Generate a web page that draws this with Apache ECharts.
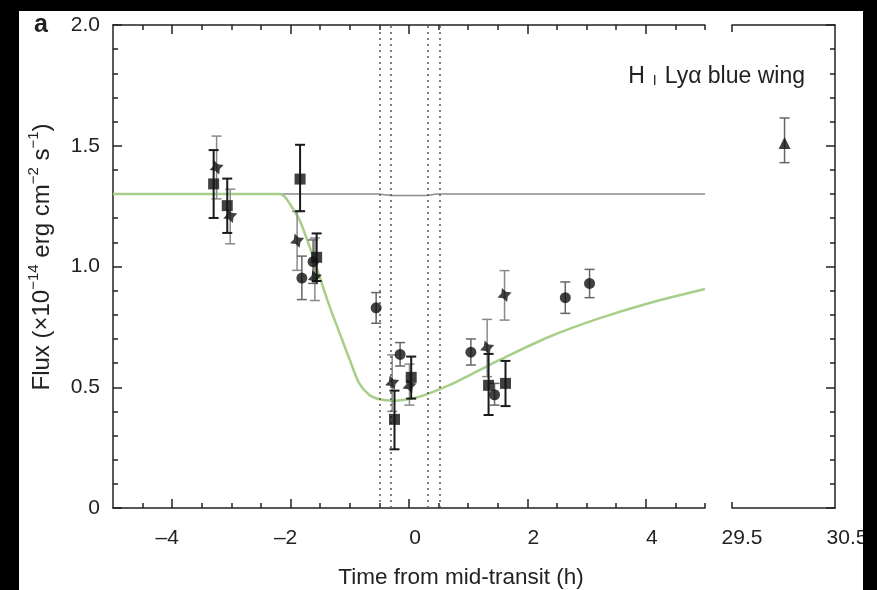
<!DOCTYPE html>
<html>
<head>
<meta charset="utf-8">
<script src="https://cdn.jsdelivr.net/npm/echarts@6/dist/echarts.min.js"></script>
<style>
html, body { margin: 0; padding: 0; background: #000; }
#paper { position: absolute; left: 19px; top: 11px; width: 844px; height: 579px; background: #fff; overflow: hidden; }
#chart { position: absolute; left: -19px; top: -11px; width: 877px; height: 590px; }
</style>
</head>
<body>
<div id="paper"><div id="chart"></div></div>
<script>
// tick values
const xMajor = [-4, -2, 0, 2, 4]
const xMinor = [-4.5, -3.5, -3, -2.5, -1.5, -1, -0.5, 0.5, 1, 1.5, 2.5, 3, 3.5, 4.5, 5]
const xRightLabels = [29.5, 30.5]

// model light curves
const modelX = [-5, -2.19, -2.10, -2.02, -1.85, -1.68, -1.51, -1.34, -1.17, -1.00, -0.84, -0.67, -0.50, -0.27, -0.10, 0.18, 0.68, 1.19, 1.53, 2.37, 3.21, 4.05, 5]
const modelY = [1.30, 1.30, 1.289, 1.262, 1.193, 1.082, 0.958, 0.834, 0.723, 0.613, 0.516, 0.468, 0.45, 0.444, 0.447, 0.461, 0.509, 0.571, 0.613, 0.709, 0.785, 0.848, 0.907]
const refX = [-5, -0.52, -0.30, 0.30, 0.47, 5]
const refY = [1.30, 1.30, 1.294, 1.294, 1.30, 1.30]

// contact times
const contactX = [-0.5, -0.3, 0.31, 0.515]

// circles
const circX = [-1.81, -1.62, -0.555, -0.15, 1.045, 1.445, 2.64, 3.05]
const circY = [0.952, 1.02, 0.829, 0.636, 0.645, 0.469, 0.871, 0.930]
const circLo = [0.863, 0.93, 0.765, 0.588, 0.592, 0.426, 0.806, 0.871]
const circHi = [1.043, 1.11, 0.892, 0.685, 0.700, 0.516, 0.936, 0.988]

// squares
const sqX = [-3.30, -3.07, -1.84, -1.56, -0.245, 0.037, 1.344, 1.63]
const sqY = [1.342, 1.252, 1.362, 1.038, 0.367, 0.541, 0.508, 0.516]
const sqLo = [1.201, 1.139, 1.229, 0.94, 0.243, 0.453, 0.385, 0.422]
const sqHi = [1.482, 1.364, 1.504, 1.137, 0.486, 0.627, 0.638, 0.609]

// stars
const starX = [-3.25, -3.02, -1.89, -1.59, -0.284, 0.008, 1.32, 1.614]
const starY = [1.41, 1.209, 1.107, 0.955, 0.519, 0.505, 0.664, 0.882]
const starLo = [1.28, 1.094, 0.984, 0.859, 0.40, 0.426, 0.544, 0.778]
const starHi = [1.54, 1.32, 1.228, 1.118, 0.634, 0.596, 0.781, 0.983]

// late point (right panel)
const triX = [29.9]
const triY = [1.511]
const triLo = [1.43]
const triHi = [1.615]

const FONT = '"Liberation Sans", Arial, sans-serif'
const INK = '#222'
const STAR = 'path://M0,-10 L3.4,-3.4 L10,0 L3.4,3.4 L0,10 L-3.4,3.4 L-10,0 L-3.4,-3.4 Z'

const zip = (xs, ys) => xs.map((x, i) => [x, ys[i]])
const zip3 = (xs, lo, hi) => xs.map((x, i) => [x, lo[i], hi[i]])

function errBars(data, color, width, xi, yi) {
  return {
    type: 'custom',
    xAxisIndex: xi,
    yAxisIndex: yi,
    data: data,
    z: 3,
    silent: true,
    renderItem: function (params, api) {
      const lo = api.coord([api.value(0), api.value(1)])
      const hi = api.coord([api.value(0), api.value(2)])
      const w = 5
      const style = { stroke: color, lineWidth: width }
      return {
        type: 'group',
        children: [
          { type: 'line', shape: { x1: lo[0], y1: lo[1], x2: hi[0], y2: hi[1] }, style: style },
          { type: 'line', shape: { x1: lo[0] - w, y1: lo[1], x2: lo[0] + w, y2: lo[1] }, style: style },
          { type: 'line', shape: { x1: hi[0] - w, y1: hi[1], x2: hi[0] + w, y2: hi[1] }, style: style }
        ]
      }
    }
  }
}

const lineAx = { show: true, onZero: false, lineStyle: { color: INK, width: 1.5 } }
const noLine = { show: false, onZero: false }
const noLabel = { show: false }
const tickStyle = { color: INK, width: 1.5 }

const mychart = echarts.init(document.getElementById('chart'))
const option = {
  animation: false,
  textStyle: { fontFamily: FONT },
  grid: [
    { left: 113, top: 25, width: 592, height: 483 },
    { left: 732, top: 25, width: 103, height: 483 },
    { left: 742, top: 25, width: 105, height: 483 }
  ],
  xAxis: [
    { gridIndex: 0, type: 'value', position: 'bottom', min: -5, max: 5,
      axisLine: lineAx, splitLine: { show: false },
      axisTick: { show: true, inside: true, length: 9, customValues: xMajor, lineStyle: tickStyle },
      axisLabel: { show: true, customValues: xMajor, margin: 20, color: INK,
        formatter: v => v < 0 ? '{n|\u2013' + Math.abs(v) + '}' : '{p|' + v + '}',
        rich: {
          n: { fontSize: 21, fontFamily: FONT, color: INK, padding: [0, 10, 0, 0] },
          p: { fontSize: 21, fontFamily: FONT, color: INK, padding: [0, 0, 0, 12] }
        } } },
    { gridIndex: 0, type: 'value', position: 'bottom', min: -5, max: 5,
      axisLine: noLine, splitLine: { show: false }, axisLabel: noLabel,
      axisTick: { show: true, inside: true, length: 5, customValues: xMinor, lineStyle: tickStyle } },
    { gridIndex: 0, type: 'value', position: 'top', min: -5, max: 5,
      axisLine: lineAx, splitLine: { show: false }, axisLabel: noLabel,
      axisTick: { show: true, inside: true, length: 9, customValues: xMajor, lineStyle: tickStyle } },
    { gridIndex: 0, type: 'value', position: 'top', min: -5, max: 5,
      axisLine: noLine, splitLine: { show: false }, axisLabel: noLabel,
      axisTick: { show: true, inside: true, length: 5, customValues: xMinor, lineStyle: tickStyle } },
    { gridIndex: 1, type: 'value', position: 'bottom', min: 29.4, max: 30.38,
      axisLine: lineAx, splitLine: { show: false }, axisLabel: noLabel,
      axisTick: { show: true, inside: true, length: 6, customValues: [29.4], lineStyle: tickStyle } },
    { gridIndex: 1, type: 'value', position: 'top', min: 29.4, max: 30.38,
      axisLine: lineAx, splitLine: { show: false }, axisLabel: noLabel,
      axisTick: { show: true, inside: true, length: 7, customValues: [29.4], lineStyle: tickStyle } },
    { gridIndex: 2, type: 'value', position: 'bottom', min: 29.5, max: 30.5,
      axisLine: noLine, splitLine: { show: false }, axisTick: { show: false },
      axisLabel: { show: true, customValues: xRightLabels, margin: 20, fontSize: 21, color: INK, fontFamily: FONT,
        formatter: v => v.toFixed(1) } }
  ],
  yAxis: [
    { gridIndex: 0, type: 'value', position: 'left', min: 0, max: 2, interval: 0.5,
      axisLine: lineAx, splitLine: { show: false },
      axisTick: { show: true, inside: true, length: 9, lineStyle: tickStyle },
      minorTick: { show: true, splitNumber: 5, length: 5, lineStyle: tickStyle },
      axisLabel: { margin: 13, fontSize: 21, color: INK, fontFamily: FONT,
        formatter: v => v === 0 ? '0' : v.toFixed(1) } },
    { gridIndex: 1, type: 'value', position: 'right', min: 0, max: 2, interval: 0.5,
      axisLine: lineAx, splitLine: { show: false }, axisLabel: noLabel,
      axisTick: { show: true, inside: true, length: 9, lineStyle: tickStyle },
      minorTick: { show: true, splitNumber: 5, length: 5, lineStyle: tickStyle } },
    { gridIndex: 2, type: 'value', show: false, min: 0, max: 2 }
  ],
  graphic: [
    { type: 'text', left: 34, top: 13, style: { text: 'a', font: 'bold 25px ' + FONT, fill: INK } },
    { type: 'text', x: 40, y: 257, rotation: Math.PI / 2, style: {
      text: '{t|Flux (\u00d710}{s|\u221214}{t| erg cm}{s|\u22122}{t| s}{s|\u22121}{t|)}',
      align: 'center', verticalAlign: 'middle',
      rich: {
        t: { fontSize: 24, fontFamily: FONT, fill: INK, verticalAlign: 'bottom', lineHeight: 28 },
        s: { fontSize: 15, fontFamily: FONT, fill: INK, verticalAlign: 'top', lineHeight: 28 }
      } } },
    { type: 'text', right: 72, top: 65, style: {
      text: '{t|H}{i|I}{t|Ly\u03b1 blue wing}',
      rich: {
        t: { fontSize: 23, fontFamily: FONT, fill: INK, verticalAlign: 'bottom' },
        i: { fontSize: 14, fontFamily: FONT, fill: INK, verticalAlign: 'bottom', padding: [0, 8, 0, 8] }
      } } },
    { type: 'text', x: 461, y: 578, style: { text: 'Time from mid-transit (h)', font: '22.5px ' + FONT, fill: INK,
      align: 'center', verticalAlign: 'middle' } }
  ],
  series: [
    { type: 'line', xAxisIndex: 0, yAxisIndex: 0, data: zip(refX, refY), showSymbol: false, silent: true,
      lineStyle: { color: '#8c8c8c', width: 1.5 }, z: 1,
      markLine: { silent: true, symbol: 'none', label: { show: false },
        lineStyle: { color: '#555', type: [2, 4], width: 1.5 },
        data: contactX.map(x => ({ xAxis: x })) } },
    { type: 'line', xAxisIndex: 0, yAxisIndex: 0, data: zip(modelX, modelY), showSymbol: false, silent: true,
      smooth: 0.3, lineStyle: { color: '#a8cf8a', width: 2.5 }, z: 2 },
    errBars(zip3(starX, starLo, starHi), '#8a8a8a', 1.5, 0, 0),
    errBars(zip3(circX, circLo, circHi), '#666', 1.5, 0, 0),
    errBars(zip3(sqX, sqLo, sqHi), '#1a1a1a', 2, 0, 0),
    errBars(zip3(triX, triLo, triHi), '#666', 1.5, 4, 1),
    { type: 'scatter', xAxisIndex: 0, yAxisIndex: 0, data: zip(starX, starY), symbol: STAR, symbolSize: 15, symbolRotate: 20,
      itemStyle: { color: '#111' }, z: 5 },
    { type: 'scatter', xAxisIndex: 0, yAxisIndex: 0, data: zip(circX, circY), symbol: 'circle', symbolSize: 11,
      itemStyle: { color: '#111' }, z: 5 },
    { type: 'scatter', xAxisIndex: 0, yAxisIndex: 0, data: zip(sqX, sqY), symbol: 'rect', symbolSize: 11,
      itemStyle: { color: '#111' }, z: 5 },
    { type: 'scatter', xAxisIndex: 4, yAxisIndex: 1, data: zip(triX, triY), symbol: 'triangle', symbolSize: 12,
      itemStyle: { color: '#111' }, z: 5 }
  ]
}
mychart.setOption(option, true)
</script>
</body>
</html>
